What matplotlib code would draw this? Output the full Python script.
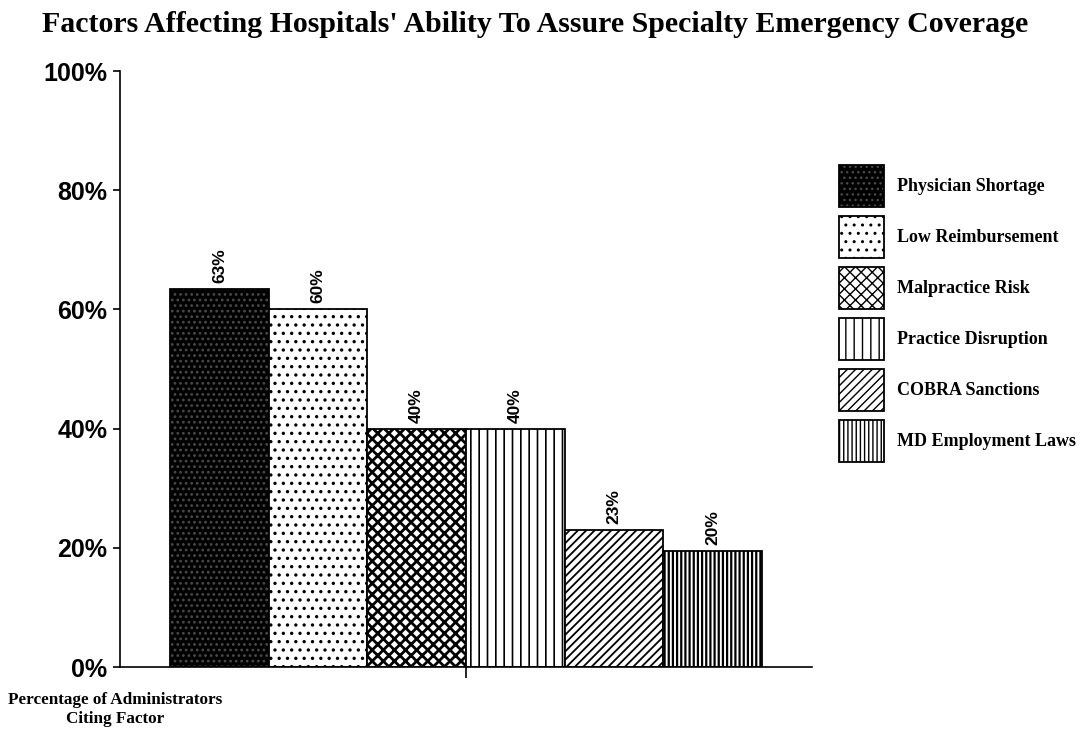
import matplotlib
matplotlib.use("Agg")
import matplotlib.pyplot as plt
from matplotlib.legend_handler import HandlerTuple

# data
factors = ['Physician Shortage', 'Low Reimbursement', 'Malpractice Risk',
           'Practice Disruption', 'COBRA Sanctions', 'MD Employment Laws']
percent = [63.4, 60, 40, 40, 23, 19.5]
bar_labels = ['63%', '60%', '40%', '40%', '23%', '20%']
hatches = ['...', '..', 'xxx', '||', '////', '||||']
hatch_widths = [1.2, 1.2, 2.0, 1.2, 1.3, 1.6]

fig = plt.figure(figsize=(10.86, 7.33), dpi=100)
ax = fig.add_axes([0.1105, 0.0900, 0.6372, 0.8131])

positions = [i - (len(factors) - 1) / 2 for i in range(len(factors))]
handles = []
for i, (name, val) in enumerate(zip(factors, percent)):
    with plt.rc_context({'hatch.linewidth': hatch_widths[i]}):
        if i == 0:
            # black bar with faint grey dots
            b1 = ax.bar(positions[i], val, width=1, facecolor='black', edgecolor='#4a4a4a',
                        hatch=hatches[i], linewidth=0)
            b2 = ax.bar(positions[i], val, width=1, fill=False, edgecolor='black', linewidth=1.3)
            handles.append((b1[0], b2[0]))
        else:
            b = ax.bar(positions[i], val, width=1, facecolor='white', edgecolor='black',
                       hatch=hatches[i], linewidth=1.3)
            handles.append(b[0])
    ax.text(positions[i], val + 1.0, bar_labels[i], rotation=90, ha='center', va='bottom',
            fontsize=12.5, fontweight='bold', family='Liberation Sans')

ax.set_xlim(-3.51, 3.51)
ax.set_ylim(0, 100)
ax.set_yticks([0, 20, 40, 60, 80, 100])
ax.set_yticklabels(['0%', '20%', '40%', '60%', '80%', '100%'],
                   fontsize=18, fontweight='bold', family='Liberation Sans')
ax.set_xticks([0])
ax.set_xticklabels([''])
ax.tick_params(axis='y', length=5, width=1.2, pad=4)
ax.tick_params(axis='x', length=8, width=1.2)
ax.spines['top'].set_visible(False)
ax.spines['right'].set_visible(False)
ax.spines['left'].set_linewidth(1.2)
ax.spines['bottom'].set_linewidth(1.2)

fig.text(0.493, 1 - 32 / 733, "Factors Affecting Hospitals' Ability To Assure Specialty Emergency Coverage",
         ha='center', va='baseline', fontsize=21.5, fontweight='bold', family='Liberation Serif')

fig.text(115 / 1086, 1 - 692 / 733, "Percentage of Administrators\nCiting Factor",
         ha='center', va='top', fontsize=12.3, fontweight='bold', family='Liberation Serif',
         linespacing=1.25)

fig.legend(handles, factors, loc='upper left', bbox_to_anchor=(839 / 1086, 1 - 165 / 733),
           frameon=False, borderpad=0, borderaxespad=0,
           prop={'family': 'Liberation Serif', 'weight': 'bold', 'size': 13},
           handlelength=2.5, handleheight=3.2, labelspacing=0.5, handletextpad=0.7,
           handler_map={tuple: HandlerTuple(ndivide=1, pad=0)})

fig.savefig('out.png', dpi=100)
